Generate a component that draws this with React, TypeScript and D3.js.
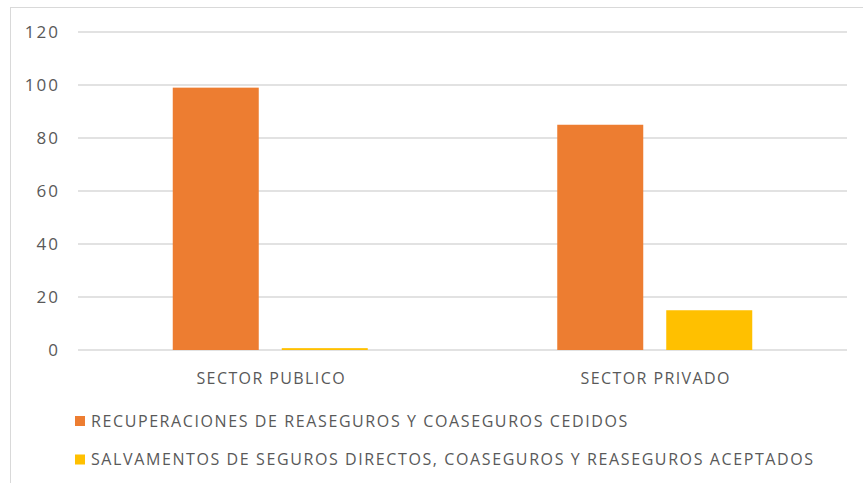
import React from "react";
import * as d3 from "d3";

const categories = ["SECTOR PUBLICO", "SECTOR PRIVADO"];
const seriesNames = [
  "RECUPERACIONES DE REASEGUROS Y COASEGUROS CEDIDOS",
  "SALVAMENTOS DE SEGUROS DIRECTOS, COASEGUROS Y REASEGUROS ACEPTADOS",
];
const recuperaciones = [99, 85];
const salvamentos = [0.7, 15];
const yTicks = [0, 20, 40, 60, 80, 100, 120];
const colors = ["#ED7D31", "#FFC000"];

export default function App() {
  const W = 863, H = 483;
  const left = 78, right = 847, top = 32, bottom = 350;
  const x0 = d3.scaleBand().domain(categories).range([left, right]).paddingInner(0).paddingOuter(0);
  const y = d3.scaleLinear().domain([0, 120]).range([bottom, top]);
  const series = [recuperaciones, salvamentos];
  const barW = 86, gap = 23;
  const font = "'Open Sans', sans-serif";
  return (
    <svg width={W} height={H} style={{ position: "absolute", left: 0, top: 0 }}>
      <rect x={0} y={0} width={W} height={H} fill="#fff" />
      <rect x={10.5} y={7.5} width={W + 10} height={H + 10} fill="none" stroke="#d9d9d9" strokeWidth={1} />
      {yTicks.map((t) => (
        <g key={t}>
          <line x1={left} x2={right} y1={y(t)} y2={y(t)} stroke="#d9d9d9" strokeWidth={1.5} />
          <text x={60} y={y(t)} dy="0.35em" textAnchor="end" fontFamily={font} fontSize={17} letterSpacing={2} fill="#595959">{t}</text>
        </g>
      ))}
      {categories.map((c, i) => {
        const cx = x0(c)! + x0.bandwidth() / 2;
        return (
          <g key={c}>
            {series.map((s, j) => {
              const bx = cx - (barW * 2 + gap) / 2 + j * (barW + gap);
              return <rect key={j} x={bx} y={y(s[i])} width={barW} height={y(0) - y(s[i])} fill={colors[j]} />;
            })}
            <text x={cx + 1} y={384} textAnchor="middle" fontFamily={font} fontSize={16} letterSpacing={1.4} fill="#595959">{c}</text>
          </g>
        );
      })}
      {seriesNames.map((n, j) => (
        <g key={n}>
          <rect x={75} y={416 + j * 38.5} width={10} height={10} fill={colors[j]} />
          <text x={91} y={421 + j * 38.5} dy="0.35em" fontFamily={font} fontSize={16} letterSpacing={1.6} fill="#595959">{n}</text>
        </g>
      ))}
    </svg>
  );
}
